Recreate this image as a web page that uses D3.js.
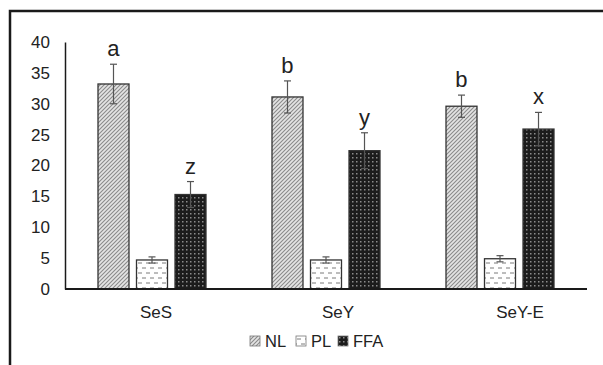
<!DOCTYPE html>
<html lang="en">
<head>
  <meta charset="UTF-8">
  <title>Lipid fractions</title>
  <script src="https://d3js.org/d3.v7.min.js"></script>
  <style>
    body { margin: 0; background: #fff; }
    text { font-family: "Liberation Sans", Arial, sans-serif; fill: #222; }
    .tick-label { font-size: 17px; }
    .cat-label { font-size: 17px; }
    .letter { font-size: 22px; }
    .legend text { font-size: 16.5px; }
  </style>
</head>
<body>
<svg id="chart" width="603" height="365"></svg>
<script>
  // data
  const categories = ["SeS", "SeY", "SeY-E"];
  const series = ["NL", "PL", "FFA"];
  const nlValues = [33.2, 31.1, 29.6];
  const nlErrors = [3.2, 2.6, 1.8];
  const plValues = [4.7, 4.7, 4.9];
  const plErrors = [0.5, 0.5, 0.5];
  const ffaValues = [15.3, 22.4, 25.9];
  const ffaErrors = [2.1, 2.9, 2.7];
  const nlLetters = ["a", "b", "b"];
  const ffaLetters = ["z", "y", "x"];
  const yTicks = [0, 5, 10, 15, 20, 25, 30, 35, 40];

  const values = {NL: nlValues, PL: plValues, FFA: ffaValues};
  const errors = {NL: nlErrors, PL: plErrors, FFA: ffaErrors};
  const letters = {NL: nlLetters, FFA: ffaLetters};

  let svg = d3.select("#chart");

  // frame (only left and top edges show in the original)
  svg.append("path")
    .attr("d", "M10,365 V11 H603")
    .attr("fill", "none")
    .attr("stroke", "#1a1a1a")
    .attr("stroke-width", 2.5);

  let defs = svg.append("defs");

  // NL: light diagonal hatch
  let pNL = defs.append("pattern").attr("id", "pat-NL")
    .attr("patternUnits", "userSpaceOnUse").attr("width", 4).attr("height", 4);
  pNL.append("rect").attr("width", 4).attr("height", 4).attr("fill", "#e4e4e4");
  pNL.append("path").attr("d", "M-1,1 l2,-2 M0,4 l4,-4 M3,5 l2,-2")
    .attr("stroke", "#8a8a8a").attr("stroke-width", 1.1);

  // PL: white with staggered dashes
  let pPL = defs.append("pattern").attr("id", "pat-PL")
    .attr("patternUnits", "userSpaceOnUse").attr("width", 8).attr("height", 10);
  pPL.append("rect").attr("width", 8).attr("height", 10).attr("fill", "#fff");
  pPL.append("path").attr("d", "M1,3 h4 M5,8 h4 M-3,8 h4")
    .attr("stroke", "#7a7a7a").attr("stroke-width", 1);

  // FFA: black with grey dots
  let pFFA = defs.append("pattern").attr("id", "pat-FFA")
    .attr("patternUnits", "userSpaceOnUse").attr("width", 4).attr("height", 4);
  pFFA.append("rect").attr("width", 4).attr("height", 4).attr("fill", "#1c1c1c");
  pFFA.append("rect").attr("x", 1).attr("y", 1).attr("width", 1.5).attr("height", 1.5).attr("fill", "#8c8c8c");

  // scales
  let x0 = d3.scaleBand().domain(categories).range([65, 587]);
  let x1 = d3.scaleBand().domain(series).range([33, 141]).paddingInner(0.195);
  let y = d3.scaleLinear().domain([0, 40]).range([289, 42]);
  let xLabel = d3.scalePoint().domain(categories).range([156, 520]);

  // y axis: line plus labels, no ticks
  let yAxis = svg.append("g")
    .attr("transform", "translate(65,0)")
    .call(d3.axisLeft(y).tickValues(yTicks).tickSize(0).tickPadding(15));
  yAxis.select(".domain").attr("stroke", "#1a1a1a").attr("stroke-width", 1.5);
  yAxis.selectAll("text").attr("class", "tick-label").attr("fill", "#222")
    .style("font-size", "17px").style("font-family", "'Liberation Sans', Arial, sans-serif");

  // bars
  let groups = svg.selectAll(".group")
    .data(categories)
    .enter().append("g")
    .attr("class", "group")
    .attr("transform", d => "translate(" + x0(d) + ",0)");

  groups.selectAll(".bar")
    .data((c, i) => series.map(s => ({s: s, i: i, v: values[s][i], e: errors[s][i]})))
    .enter().append("rect")
    .attr("class", "bar")
    .attr("x", d => x1(d.s))
    .attr("y", d => y(d.v))
    .attr("width", x1.bandwidth())
    .attr("height", d => y(0) - y(d.v))
    .attr("fill", d => "url(#pat-" + d.s + ")")
    .attr("stroke", "#333")
    .attr("stroke-width", 1.3);

  // error bars
  let err = groups.selectAll(".err")
    .data((c, i) => series.map(s => ({s: s, i: i, v: values[s][i], e: errors[s][i]})))
    .enter().append("g")
    .attr("class", "err")
    .attr("stroke", "#555")
    .attr("stroke-width", 1.2);
  err.append("line")
    .attr("x1", d => x1(d.s) + x1.bandwidth() / 2)
    .attr("x2", d => x1(d.s) + x1.bandwidth() / 2)
    .attr("y1", d => y(d.v + d.e))
    .attr("y2", d => y(d.v - d.e));
  err.append("line")
    .attr("x1", d => x1(d.s) + x1.bandwidth() / 2 - 3.5)
    .attr("x2", d => x1(d.s) + x1.bandwidth() / 2 + 3.5)
    .attr("y1", d => y(d.v + d.e))
    .attr("y2", d => y(d.v + d.e));
  err.append("line")
    .attr("x1", d => x1(d.s) + x1.bandwidth() / 2 - 3.5)
    .attr("x2", d => x1(d.s) + x1.bandwidth() / 2 + 3.5)
    .attr("y1", d => y(d.v - d.e))
    .attr("y2", d => y(d.v - d.e));

  // significance letters
  groups.selectAll(".letter")
    .data((c, i) => ["NL", "FFA"].map(s => ({s: s, i: i, v: values[s][i], e: errors[s][i], t: letters[s][i]})))
    .enter().append("text")
    .attr("class", "letter")
    .attr("x", d => x1(d.s) + x1.bandwidth() / 2)
    .attr("y", d => y(d.v + d.e) - 8)
    .attr("text-anchor", "middle")
    .text(d => d.t);

  // x baseline
  svg.append("line")
    .attr("x1", x0.range()[0]).attr("x2", x0.range()[1])
    .attr("y1", y(0)).attr("y2", y(0))
    .attr("stroke", "#1a1a1a").attr("stroke-width", 2);

  // category labels
  svg.selectAll(".cat-label")
    .data(categories)
    .enter().append("text")
    .attr("class", "cat-label")
    .attr("x", d => xLabel(d))
    .attr("y", 318)
    .attr("text-anchor", "middle")
    .text(d => d);

  // legend
  let legendX = {NL: 250, PL: 296, FFA: 338};
  let legend = svg.append("g").attr("class", "legend");
  let item = legend.selectAll(".item")
    .data(series)
    .enter().append("g")
    .attr("class", "item")
    .attr("transform", d => "translate(" + legendX[d] + ",336)");
  item.append("rect")
    .attr("width", 10).attr("height", 10)
    .attr("fill", d => "url(#pat-" + d + ")")
    .attr("stroke", "#777").attr("stroke-width", 0.8);
  item.append("text")
    .attr("x", 15).attr("y", 11)
    .text(d => d);
</script>
</body>
</html>
